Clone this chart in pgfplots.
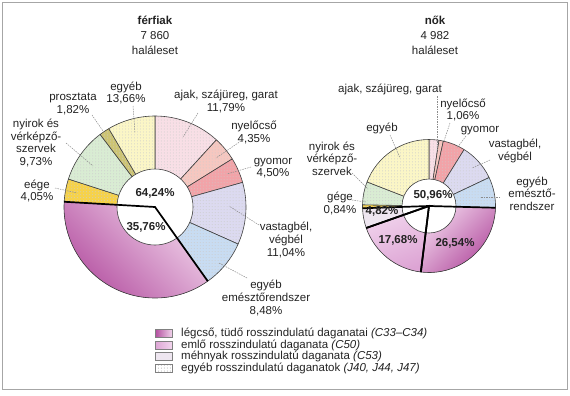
\documentclass[border=0pt]{standalone}
\usepackage{pgfplots}
\pgfplotsset{compat=1.18}
\usepackage{pgfplotstable}
\usetikzlibrary{patterns}
\usepackage{fontspec}
\setmainfont{Liberation Sans}

\definecolor{colAjak}{HTML}{F8DFE6}
\definecolor{colNyel}{HTML}{F6C7C0}
\definecolor{colGyom}{HTML}{F2A3A8}
\definecolor{colVast}{HTML}{DCDAF0}
\definecolor{colEmesz}{HTML}{C8DCF2}
\definecolor{colGege}{HTML}{F6D24A}
\definecolor{colNyirok}{HTML}{D9ECD3}
\definecolor{colProszt}{HTML}{CDC474}
\definecolor{colEgyeb}{HTML}{FBF6C6}
\definecolor{colMeh}{HTML}{EEE6F0}
\definecolor{lungDark}{HTML}{B24C9E}
\definecolor{lungLight}{HTML}{F0D2EA}
\definecolor{emloDark}{HTML}{DDA4D4}
\definecolor{emloLight}{HTML}{F2D6EE}
\definecolor{txt}{HTML}{222222}

\tikzset{
  cAjak/.style={fill=colAjak}, cNyel/.style={fill=colNyel},
  cGyom/.style={fill=colGyom}, cVast/.style={fill=colVast},
  cEmesz/.style={fill=colEmesz}, cGege/.style={fill=colGege},
  cNyirok/.style={fill=colNyirok}, cProszt/.style={fill=colProszt},
  cEgyeb/.style={fill=colEgyeb}, cMeh/.style={fill=colMeh},
  lungL/.style={top color=lungLight, bottom color=lungDark, shading angle=-45},
  lungR/.style={top color=lungLight, bottom color=lungDark, shading angle=45},
  emloR/.style={top color=emloLight, bottom color=emloDark, shading angle=20},
  lead/.style={draw=black!45, line width=0.5bp, dash pattern=on 1.5bp off 1bp},
}

% férfiak: share (%) clockwise from 12 o'clock
\pgfplotstableread{
val   sty     dots thick
11.79 cAjak   1 0
4.35  cNyel   1 0
4.50  cGyom   1 0
11.04 cVast   1 0
8.48  cEmesz  1 0
35.76 lungL   0 1
4.05  cGege   1 0
9.73  cNyirok 1 0
1.82  cProszt 1 0
8.48  cEgyeb  1 0
}\ferfi

% nők
\pgfplotstableread{
val   sty     dots thick
2.40  cAjak   1 0
1.06  cNyel   1 0
5.40  cGyom   1 0
9.10  cVast   1 0
7.46  cEmesz  1 0
26.54 lungR   0 1
17.68 emloR   0 1
4.82  cMeh    0 1
0.84  cGege   1 0
5.60  cNyirok 1 0
19.10 cEgyeb  1 0
}\noi

\newcommand\donut[5]{% table, cx, cy, R, r
  \pgfplotstablegetrowsof{#1}%
  \pgfmathtruncatemacro\nrows{\pgfplotsretval-1}%
  \gdef\cum{0}%
  \foreach \i in {0,...,\nrows}{%
    \pgfplotstablegetelem{\i}{val}\of{#1}\let\myv\pgfplotsretval
    \pgfplotstablegetelem{\i}{sty}\of{#1}\let\mys\pgfplotsretval
    \pgfplotstablegetelem{\i}{dots}\of{#1}\let\myd\pgfplotsretval
    \pgfmathsetmacro\a{90-3.6*\cum}%
    \pgfmathsetmacro\b{90-3.6*(\cum+\myv)}%
    \expandafter\fill\expandafter[\mys] (axis cs:#2,#3) -- ++(\a:#4bp) arc[start angle=\a, end angle=\b, radius=#4bp] -- cycle;
    \ifnum\myd=1
      \fill[pattern=dots, pattern color=black!20] (axis cs:#2,#3) -- ++(\a:#4bp) arc[start angle=\a, end angle=\b, radius=#4bp] -- cycle;
    \fi
    \draw[line width=0.6bp, draw=black!75, line join=round] (axis cs:#2,#3) -- ++(\a:#4bp) arc[start angle=\a, end angle=\b, radius=#4bp] -- cycle;
    \pgfmathsetmacro\c{\cum+\myv}\xdef\cum{\c}%
  }%
  \fill[white, draw=black!75, line width=0.6bp] (axis cs:#2,#3) circle[radius=#5bp];
  \gdef\cum{0}%
  \foreach \i in {0,...,\nrows}{%
    \pgfplotstablegetelem{\i}{val}\of{#1}\let\myv\pgfplotsretval
    \pgfplotstablegetelem{\i}{thick}\of{#1}\let\myt\pgfplotsretval
    \pgfmathsetmacro\a{90-3.6*\cum}%
    \pgfmathsetmacro\b{90-3.6*(\cum+\myv)}%
    \ifnum\myt=1
      \draw[line width=1.7bp, black] (axis cs:#2,#3) ++(\a:#4bp) -- (axis cs:#2,#3) -- ++(\b:#4bp);
    \fi
    \pgfmathsetmacro\c{\cum+\myv}\xdef\cum{\c}%
  }%
}

\newcommand\lf{\fontsize{11.5bp}{12.6bp}\selectfont}

\begin{document}
\begin{tikzpicture}
\begin{axis}[
  width=570bp, height=395bp, scale only axis,
  xmin=0, xmax=570, ymin=0, ymax=395, y dir=reverse,
  hide axis, clip=false,
]
\pgfplotsextra{
  \path (axis cs:0,0) rectangle (axis cs:570,395);
  \draw[black!35, line width=1bp] (axis cs:2,3) rectangle (axis cs:567,389);
  \donut{\ferfi}{155}{207}{91}{38}
  \donut{\noi}{429}{206}{66.5}{27}
  % legend
  \fill[left color=lungDark, right color=lungLight, draw=black!50, line width=0.4bp] (axis cs:155,329) rectangle (axis cs:172,337);
  \fill[left color=emloDark, right color=emloLight, draw=black!50, line width=0.4bp] (axis cs:155,341) rectangle (axis cs:172,349);
  \fill[colMeh, draw=black!50, line width=0.4bp] (axis cs:155,352) rectangle (axis cs:172,360);
  \fill[white] (axis cs:155,364) rectangle (axis cs:172,372);
  \fill[pattern=dots, pattern color=black!35] (axis cs:155,364) rectangle (axis cs:172,372);
  \draw[black!50, line width=0.4bp] (axis cs:155,364) rectangle (axis cs:172,372);
}
% leader lines
\draw[lead] (axis cs:133,106) -- (axis cs:135,133);
\draw[lead] (axis cs:92,115) -- (axis cs:103,131);
\draw[lead] (axis cs:66,143) -- (axis cs:93,166);
\draw[lead] (axis cs:55,188) -- (axis cs:77,193);
\draw[lead] (axis cs:198,113) -- (axis cs:183,137);
\draw[lead] (axis cs:241,141) -- (axis cs:216,158);
\draw[lead] (axis cs:251,167) -- (axis cs:227,174);
\draw[lead] (axis cs:259,225) -- (axis cs:229,206);
\draw[lead] (axis cs:247,278) -- (axis cs:219,263);
\draw[lead] (axis cs:437,96) -- (axis cs:437,150);
\draw[lead] (axis cs:450,123) -- (axis cs:444,141);
\draw[lead] (axis cs:466,136) -- (axis cs:457,148);
\draw[lead] (axis cs:490,160) -- (axis cs:472,168);
\draw[lead] (axis cs:500,197) -- (axis cs:480,197);
\draw[lead] (axis cs:390,135) -- (axis cs:400,158);
\draw[lead] (axis cs:352,173) -- (axis cs:368,189);
\draw[lead] (axis cs:352,200) -- (axis cs:366,202);

\begin{scope}[every node/.style={font=\lf, text=txt, align=center, inner sep=0pt}]
% titles
\node[font=\fontsize{11.5bp}{14.8bp}\selectfont] at (axis cs:155,35.5) {\textbf{férfiak}\\7 860\\haláleset};
\node[font=\fontsize{11.5bp}{14.8bp}\selectfont] at (axis cs:435,35.5) {\textbf{nők}\\4 982\\haláleset};
% férfiak labels
\node at (axis cs:126,93) {egyéb\\13,66\%};
\node at (axis cs:73,104) {prosztata\\1,82\%};
\node at (axis cs:36,143) {nyirok és\\vérképző-\\szervek\\9,73\%};
\node at (axis cs:37,191) {eége\\4,05\%};
\node at (axis cs:226,101.5) {ajak, szájüreg, garat\\11,79\%};
\node at (axis cs:254,132.5) {nyelőcső\\4,35\%};
\node at (axis cs:273,168) {gyomor\\4,50\%};
\node at (axis cs:286,240) {vastagbél,\\végbél\\11,04\%};
\node at (axis cs:266,298) {egyéb\\emésztőrendszer\\8,48\%};
\node[font=\lf\bfseries] at (axis cs:155,193) {64,24\%};
\node[font=\lf\bfseries] at (axis cs:146,227) {35,76\%};
% nők labels
\node at (axis cs:390,89) {ajak, szájüreg, garat};
\node at (axis cs:463,110) {nyelőcső\\1,06\%};
\node at (axis cs:480,131) {gyomor};
\node at (axis cs:515,151) {vastagbél,\\végbél};
\node at (axis cs:532,193.5) {egyéb\\emésztő-\\rendszer};
\node at (axis cs:382,128) {egyéb};
\node at (axis cs:332,158.5) {nyirok és\\vérképző-\\szervek};
\node at (axis cs:340,203.5) {gége\\0,84\%};
\node[font=\lf\bfseries] at (axis cs:433,195) {50,96\%};
\node[font=\lf\bfseries] at (axis cs:382,211) {4,82\%};
\node[font=\lf\bfseries] at (axis cs:398,240) {17,68\%};
\node[font=\lf\bfseries] at (axis cs:455,243) {26,54\%};
% legend text
\node[anchor=west] at (axis cs:181,333) {légcső, tüdő rosszindulatú daganatai \textit{(C33–C34)}};
\node[anchor=west] at (axis cs:181,345) {emlő rosszindulatú daganata \textit{(C50)}};
\node[anchor=west] at (axis cs:181,356) {méhnyak rosszindulatú daganata \textit{(C53)}};
\node[anchor=west] at (axis cs:181,368) {egyéb rosszindulatú daganatok \textit{(J40, J44, J47)}};
\end{scope}
\end{axis}
\end{tikzpicture}
\end{document}
